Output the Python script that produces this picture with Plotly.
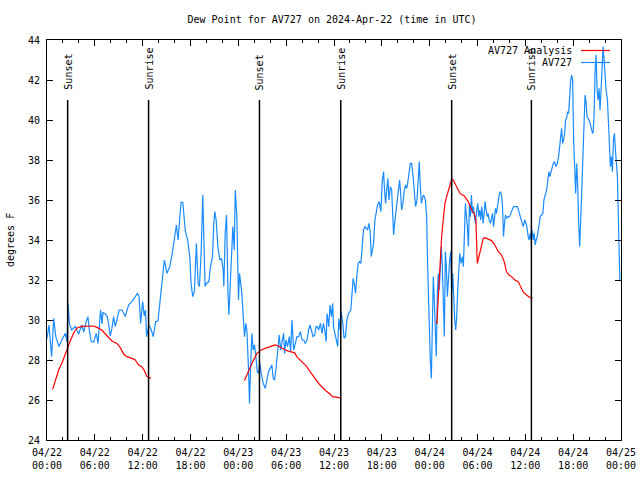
import pandas as pd
import plotly.graph_objects as go

BASE = pd.Timestamp("2024-04-22 00:00")

# ---- AV727 observations (hours after 2024-04-22 00:00 UTC, degrees F) ----
obs_hours = [
    0.00, 0.25, 0.58, 0.84, 1.10, 1.50, 1.95, 2.31, 2.50, 2.64, 2.81, 3.10, 3.56, 3.98, 4.35, 4.61, 4.85,
    5.14, 5.30, 5.55, 5.85, 6.17, 6.40, 6.62, 6.72, 6.90, 7.02, 7.31, 7.56, 7.75, 7.94, 8.15, 8.35, 8.56,
    8.77, 9.06, 9.40, 9.81, 10.23, 10.65, 11.07, 11.36, 11.55, 11.74, 12.00, 12.20, 12.35, 12.49, 12.79,
    13.08, 13.33, 13.63, 13.92,
    14.13, 14.43, 14.72, 15.05, 15.39, 15.68, 15.98, 16.23, 16.44, 16.65, 16.81, 17.03, 17.15, 17.36,
    17.65, 17.91, 18.07, 18.28, 18.49, 18.74, 18.95, 19.12, 19.33, 19.46, 19.54, 19.67, 19.83, 20.00,
    20.30, 20.51, 20.76, 20.92, 21.05, 21.22, 21.43, 21.68, 21.89, 22.10, 22.18, 22.35, 22.52, 22.69,
    22.81, 22.94, 23.11, 23.31, 23.48, 23.62, 23.81, 23.94, 24.02, 24.15, 24.27, 24.44, 24.65, 24.77,
    24.94, 25.07, 25.28, 25.40, 25.53, 25.70, 25.86, 26.03, 26.20, 26.37, 26.53, 26.70, 26.87, 27.12,
    27.37, 27.62, 27.79, 28.00, 28.21, 28.38, 28.55, 28.71, 28.84, 28.97, 29.13, 29.30, 29.47, 29.68,
    29.81, 29.97, 30.18, 30.39, 30.56, 30.73, 30.94, 31.15, 31.36, 31.57, 31.78, 31.99, 32.20, 32.40,
    32.61, 32.82, 32.99, 33.16, 33.37, 33.58, 33.75, 33.91, 34.08, 34.29, 34.50, 34.67, 34.84, 35.01,
    35.13, 35.34, 35.51, 35.68, 35.84,
    35.93, 36.14, 36.35, 36.47, 36.60, 36.77, 36.89, 37.10, 37.27, 37.44, 37.61, 37.82, 38.11, 38.28,
    38.40, 38.57, 38.70, 38.86, 39.03, 39.20, 39.37, 39.54, 39.70, 39.87, 40.04, 40.21, 40.37, 40.54,
    40.67, 40.79, 40.96, 41.13, 41.30, 41.47, 41.67, 41.88, 42.05, 42.22, 42.34, 42.47, 42.64, 42.76,
    42.89, 43.06, 43.23, 43.35, 43.48, 43.60, 43.77, 43.94, 44.11, 44.23, 44.36, 44.48, 44.65, 44.82,
    44.99, 45.11, 45.24, 45.41, 45.57, 45.74, 45.87, 45.99, 46.12, 46.24, 46.41, 46.58, 46.70, 46.83,
    46.96, 47.08, 47.25, 47.46,
    47.62, 47.75, 47.83, 47.96, 48.08, 48.21, 48.33, 48.46, 48.58, 48.71, 48.83, 48.96, 49.09, 49.21,
    49.34, 49.46, 49.59, 49.72, 49.84, 49.97, 50.09, 50.22, 50.34, 50.51, 50.64, 50.76, 50.89, 51.02,
    51.14, 51.27, 51.39, 51.52, 51.65, 51.77, 51.94, 52.11, 52.23, 52.36, 52.48, 52.61, 52.73, 52.86,
    52.99, 53.11, 53.24, 53.36, 53.49, 53.62, 53.74, 53.91, 54.04, 54.16, 54.29, 54.41, 54.54, 54.71,
    54.83, 54.96, 55.08, 55.21, 55.33, 55.46, 55.63, 55.75, 55.88, 56.01, 56.13, 56.26, 56.38, 56.51,
    56.63, 56.76, 56.89, 57.01, 57.14, 57.26, 57.39, 57.51, 57.68, 57.85, 58.02, 58.19, 58.35, 58.52,
    58.69, 58.86, 59.02, 59.19, 59.36,
    59.52, 59.73, 59.94, 60.15, 60.36, 60.48, 60.61, 60.74, 60.86, 60.99, 61.11, 61.24, 61.36, 61.49,
    61.62, 61.74, 61.87, 62.04, 62.20, 62.33, 62.50, 62.67, 62.83, 62.96, 63.08, 63.21, 63.34, 63.50,
    63.67, 63.84, 64.01, 64.17, 64.30, 64.43, 64.55, 64.68, 64.80, 64.93, 65.05, 65.18, 65.31, 65.43,
    65.56, 65.68, 65.81, 65.93, 66.06, 66.19, 66.31, 66.44, 66.56, 66.69, 66.82, 66.94, 67.11, 67.23,
    67.36, 67.49, 67.61, 67.74, 67.86, 67.99, 68.12, 68.24, 68.37, 68.49, 68.62, 68.74, 68.87, 69.00,
    69.12, 69.25, 69.37, 69.50, 69.62, 69.75, 69.88, 70.00, 70.13, 70.30, 70.42, 70.55, 70.67, 70.80,
    70.92, 71.05, 71.18, 71.30, 71.43, 71.55, 71.64, 71.72, 71.85,
]
obs_values = [
    29.08, 29.75, 28.17, 30.08, 29.17, 28.67, 29.08, 29.33, 28.90, 30.83, 29.83, 29.50, 29.67, 29.30, 29.75, 29.40, 29.83,
    30.17, 29.50, 28.92, 28.90, 29.33, 28.83, 30.00, 30.50, 29.80, 30.37, 30.30, 30.17, 29.75, 29.20, 29.60, 30.17, 29.67,
    30.08, 30.50, 30.50, 30.17, 30.75, 30.92, 31.17, 31.33, 31.17, 29.83, 30.92, 30.20, 30.50, 29.17, 29.75,
    29.50, 29.17, 29.92, 29.95,
    30.83, 31.83, 33.00, 32.33, 32.67, 33.25, 34.00, 34.75, 34.00, 35.33, 35.88, 35.88, 35.42, 34.42,
    34.00, 33.17, 31.83, 31.17, 31.42, 33.83, 31.83, 31.67, 33.33, 35.17, 36.25, 34.17, 31.67, 31.83,
    31.92, 32.67, 33.17, 34.83, 35.42, 35.00, 33.67, 33.00, 33.08, 32.50, 31.67, 34.33, 35.25, 31.50,
    30.25, 31.33, 33.00, 34.67, 33.50, 36.50, 35.17, 32.50, 31.00, 32.33, 31.83, 31.33, 30.00, 29.17,
    29.83, 29.50, 27.50, 25.83, 27.50, 29.33, 28.50, 28.75, 28.17, 27.42, 27.33, 27.83, 27.33, 26.83,
    26.58, 27.00, 27.42, 27.58, 27.75, 27.08, 27.00, 27.50, 28.00, 28.83, 29.25, 28.50, 28.83, 29.33,
    28.33, 29.00, 28.67, 29.17, 28.42, 30.00, 28.50, 28.83, 29.17, 29.17, 29.42, 29.00, 29.00, 28.83,
    29.00, 29.50, 29.75, 29.50, 29.17, 29.25, 29.67, 29.67, 29.50, 29.83, 29.33, 29.83, 29.50, 28.92,
    30.33, 29.67, 30.75, 30.17, 30.83,
    29.67, 29.33, 29.00, 28.67, 30.08, 29.50, 30.42, 29.83, 29.08, 29.17, 30.00, 30.33, 30.50, 31.33,
    32.08, 31.75, 31.33, 32.17, 32.83, 32.92, 32.83, 33.67, 34.50, 34.67, 34.58, 34.50, 34.83, 34.42,
    33.17, 33.50, 33.83, 35.00, 35.50, 35.75, 35.92, 35.42, 36.92, 37.42, 36.50, 35.83, 36.67, 37.08,
    36.00, 36.67, 36.50, 35.17, 34.25, 34.83, 35.50, 36.17, 36.75, 37.00, 36.33, 35.50, 35.83, 36.50,
    36.75, 36.58, 36.83, 37.50, 37.83, 37.83, 37.42, 36.92, 36.17, 35.67, 36.00, 37.17, 37.92, 36.67,
    35.83, 36.08, 36.25, 36.00,
    35.17, 32.67, 31.33, 29.67, 28.00, 27.08, 29.67, 32.17, 31.00, 29.33, 28.17, 31.33, 32.33, 31.50,
    33.00, 33.67, 32.67, 31.33, 29.17, 33.42, 32.67, 31.17, 32.17, 33.00, 33.42, 31.33, 32.33, 31.00,
    30.00, 29.50, 30.17, 31.50, 32.33, 33.33, 32.83, 33.17, 32.67, 35.00, 35.83, 35.17, 34.67, 33.67,
    35.83, 35.17, 36.25, 35.33, 35.67, 35.17, 34.83, 35.50, 35.83, 35.17, 35.50, 35.00, 35.67, 34.83,
    35.67, 35.92, 35.50, 35.17, 35.33, 35.00, 34.83, 35.17, 35.33, 34.67, 35.33, 35.58, 35.33, 35.67,
    36.00, 36.33, 36.42, 36.25, 35.67, 34.17, 34.83, 35.25, 35.08, 35.17, 35.17, 35.33, 35.42, 35.67,
    35.67, 35.67, 35.67, 35.42, 35.17,
    34.92, 34.67, 35.00, 34.75, 34.17, 34.00, 34.33, 34.00, 34.50, 34.00, 34.33, 33.75, 34.00, 34.17,
    34.50, 34.92, 35.17, 35.25, 35.33, 36.00, 36.25, 36.50, 37.00, 37.42, 37.17, 37.33, 37.58, 37.83,
    37.92, 37.67, 37.83, 38.17, 38.67, 39.17, 39.58, 38.83, 39.00, 39.33, 40.00, 40.08, 40.42, 40.33,
    41.50, 41.92, 42.25, 42.00, 39.00, 37.83, 36.33, 37.83, 36.83, 34.83, 33.67, 34.92, 37.00, 38.75,
    40.17, 41.25, 40.92, 40.17, 40.08, 40.00, 39.83, 39.58, 39.42, 39.33, 40.17, 42.33, 43.25, 41.50,
    41.00, 41.58, 40.50, 41.50, 43.00, 43.67, 43.00, 42.17, 41.50, 41.00, 40.00, 38.83, 37.67, 38.17,
    37.42, 39.00, 39.33, 38.50, 37.67, 37.17, 35.67, 33.17, 32.00,
]

# ---- AV727 Analysis (three nightly segments) ----
ana1_hours = [0.71, 1.04, 1.46, 1.88, 2.17, 2.51, 2.92, 3.34, 3.76, 4.38, 5.22, 5.85, 6.26, 6.89, 7.31,
              7.73, 8.15, 8.77, 9.19, 9.61, 10.02, 10.65, 11.07, 11.49, 11.90, 12.24, 12.54, 13.04]
ana1_values = [26.53, 27.00, 27.50, 27.85, 28.17, 28.53, 28.95, 29.35, 29.60, 29.68, 29.70, 29.70, 29.63,
               29.50, 29.30, 29.10, 28.95, 28.83, 28.62, 28.30, 28.17, 28.08, 28.00, 27.75, 27.67, 27.45,
               27.17, 27.08]
ana2_hours = [24.77, 25.06, 25.35, 25.69, 26.02, 26.32, 26.61, 26.86, 27.36, 27.99, 28.61, 29.03, 29.45,
              29.87, 30.49, 31.04, 31.33, 31.75, 32.16, 32.58, 33.00, 33.42, 33.83, 34.25, 34.67, 35.09,
              35.50, 35.80, 36.50, 36.90]
ana2_values = [26.97, 27.25, 27.58, 27.83, 28.08, 28.33, 28.42, 28.50, 28.58, 28.67, 28.75, 28.70, 28.58,
               28.50, 28.42, 28.37, 28.17, 28.00, 27.87, 27.67, 27.42, 27.17, 26.97, 26.75, 26.58, 26.42,
               26.30, 26.17, 26.13, 26.08]
ana3_hours = [48.90, 49.08, 49.29, 49.50, 49.70, 49.92, 50.13, 50.42, 50.76, 50.96, 51.38, 51.80, 52.34,
              52.84, 53.26, 53.59, 53.80, 53.88, 53.97, 54.18, 54.43, 54.72, 54.93, 55.35, 55.76, 56.18,
              56.60, 57.02, 57.35, 57.64, 57.94, 58.27, 58.69, 59.11, 59.52, 59.73, 60.15, 60.56, 60.90]
ana3_values = [29.80, 31.00, 33.00, 34.17, 35.00, 35.83, 36.17, 36.58, 37.03, 37.00, 36.67, 36.33, 36.20,
               35.92, 35.50, 35.33, 35.00, 33.92, 32.83, 33.17, 33.67, 34.08, 34.12, 34.03, 33.97, 33.75,
               33.42, 33.25, 32.92, 32.42, 32.25, 32.17, 32.00, 31.92, 31.58, 31.40, 31.25, 31.13, 31.08]

# ---- Sun events ----
sun_hours = [2.59, 12.74, 26.65, 36.85, 50.76, 60.76]
sun_labels = ["Sunset", "Sunrise", "Sunset", "Sunrise", "Sunset", "Sunrise"]
sun_line_top = 41.0
sun_label_base = 41.4

FONT = "DejaVu Sans Mono"
RED = "#ff0000"
BLUE = "#1a8cff"


def to_time(hours):
    return [BASE + pd.Timedelta(hours=h) for h in hours]


fig = go.Figure()
fig.add_trace(go.Scatter(x=to_time(obs_hours), y=obs_values, mode="lines",
                         line=dict(color=BLUE, width=1.2), name="AV727", showlegend=False))
for hh, vv in [(ana1_hours, ana1_values), (ana2_hours, ana2_values), (ana3_hours, ana3_values)]:
    fig.add_trace(go.Scatter(x=to_time(hh), y=vv, mode="lines",
                             line=dict(color=RED, width=1.2), name="AV727 Analysis", showlegend=False))

for h, lab in zip(sun_hours, sun_labels):
    t = BASE + pd.Timedelta(hours=h)
    fig.add_shape(type="line", xref="x", yref="y", x0=t, x1=t, y0=24, y1=sun_line_top,
                  line=dict(color="black", width=1.5))
    fig.add_annotation(x=t, y=sun_label_base, xref="x", yref="y", text=lab, textangle=-90,
                       showarrow=False, xanchor="center", yanchor="bottom",
                       font=dict(family=FONT, size=10, color="black"))

# ---- custom key (text left of sample, gnuplot style) ----
W, H = 640, 480
L, R, T, B = 47, 19, 40, 40
pw, ph = W - L - R, H - T - B


def px(xp):
    return (xp - L) / pw


def py(yp):
    return 1 - (yp - T) / ph


key = [("AV727 Analysis", RED, 50.5), ("AV727", BLUE, 62.5)]
for text, col, yp in key:
    fig.add_annotation(x=px(574), y=py(yp), xref="paper", yref="paper", text=text, showarrow=False,
                       xanchor="right", yanchor="middle", font=dict(family=FONT, size=10, color="black"))
    fig.add_shape(type="line", xref="paper", yref="paper", x0=px(581), x1=px(610), y0=py(yp), y1=py(yp),
                  line=dict(color=col, width=1.2))

fig.add_annotation(x=px(10), y=0.5, xref="paper", yref="paper", text="degrees F", textangle=-90,
                   showarrow=False, xanchor="center", yanchor="middle",
                   font=dict(family=FONT, size=10, color="black"))

fig.update_layout(
    width=W, height=H,
    margin=dict(l=L, r=R, t=T, b=B, autoexpand=False),
    paper_bgcolor="white", plot_bgcolor="white",
    font=dict(family=FONT, size=10, color="black"),
    title=dict(text="Dew Point for AV727 on 2024-Apr-22 (time in UTC)", x=px(332), xref="paper",
               xanchor="center", y=1 - 19 / H, yref="container", yanchor="middle",
               font=dict(family=FONT, size=10, color="black")),
    showlegend=False,
)
fig.update_xaxes(
    type="date", range=[BASE, BASE + pd.Timedelta(hours=72)], automargin=False,
    tick0=BASE, dtick=6 * 3600 * 1000, tickformat="%m/%d<br>%H:%M",
    ticks="inside", ticklen=6, tickcolor="black", showline=True, linecolor="black", linewidth=1,
    mirror="ticks", showgrid=False, zeroline=False, ticklabelstandoff=3,
    minor=dict(dtick=2 * 3600 * 1000, ticks="inside", ticklen=3, tickcolor="black", showgrid=False),
    tickfont=dict(family=FONT, size=10, color="black"),
)
fig.update_yaxes(
    range=[24, 44], dtick=2, tick0=24, automargin=False,
    ticks="inside", ticklen=6, tickcolor="black", showline=True, linecolor="black", linewidth=1,
    mirror="ticks", showgrid=False, zeroline=False, ticklabelstandoff=4,
    tickfont=dict(family=FONT, size=10, color="black"),
)

fig.write_html("out.html", config={"displayModeBar": False, "staticPlot": True},
               post_script="document.body.style.margin='0px';document.body.style.overflow='hidden';")
